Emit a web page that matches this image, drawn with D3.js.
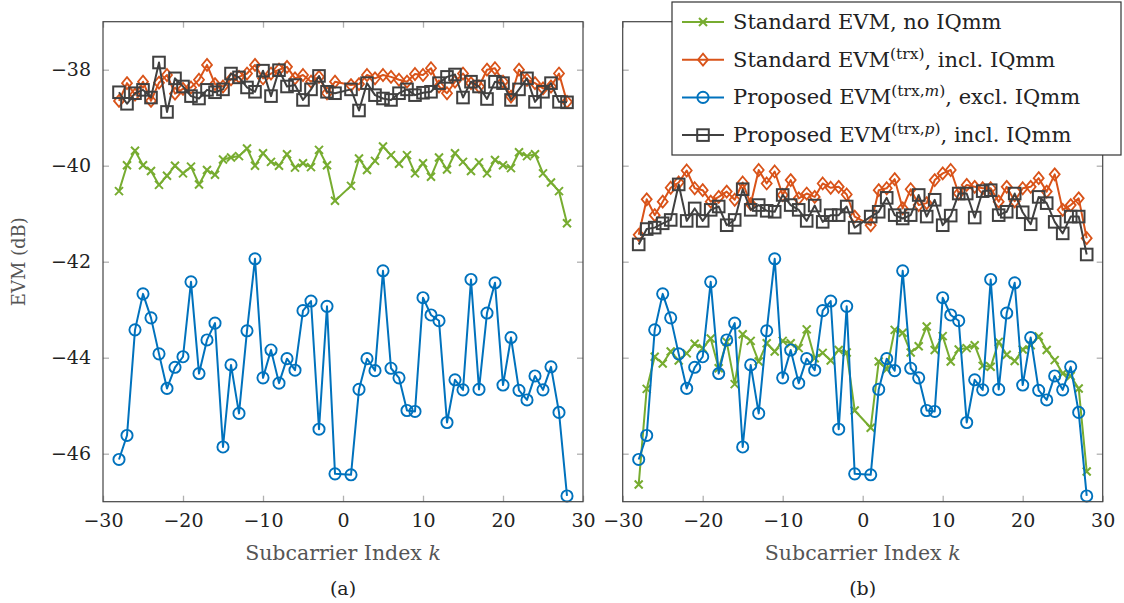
<!DOCTYPE html>
<html>
<head>
<meta charset="utf-8">
<script src="https://cdn.jsdelivr.net/npm/d3@7"></script>
<style>
  body { margin: 0; background: #fff; }
  svg { display: block; }
</style>
</head>
<body>
<svg id="chart" width="1124" height="603"></svg>
<script>
// Subcarrier indices (no DC carrier)
const subcarriers = d3.range(-28, 0).concat(d3.range(1, 29));

// Proposed EVM(trx,m), excl. IQmm - same in both panels
const proposedM = [
  -46.12, -45.62, -43.42, -42.67, -43.17, -43.92, -44.64, -44.20, -43.98, -42.42,
  -44.33, -43.63, -43.28, -45.86, -44.15, -45.16, -43.44, -41.94, -44.42, -43.84,
  -44.53, -44.02, -44.26, -43.02, -42.82, -45.49, -42.93, -46.42,
  -46.44, -44.66, -44.02, -44.27, -42.19, -44.22, -44.42, -45.10, -45.12, -42.75,
  -43.11, -43.23, -45.35, -44.46, -44.67, -42.37, -44.66, -43.07, -42.44, -44.57,
  -43.58, -44.68, -44.88, -44.38, -44.67, -44.19, -45.14, -46.88
];

// panel (a)
const stdNoIQ_a = [
  -40.53, -39.99, -39.69, -39.99, -40.11, -40.40, -40.21, -40.00, -40.16, -40.02,
  -40.39, -40.09, -40.19, -39.87, -39.83, -39.80, -39.64, -40.00, -39.74, -39.92,
  -40.00, -39.76, -40.04, -39.95, -40.03, -39.67, -39.99, -40.73,
  -40.42, -39.85, -40.09, -39.90, -39.60, -39.78, -39.96, -39.78, -40.16, -39.95,
  -40.23, -39.83, -40.08, -39.74, -39.92, -40.11, -39.93, -40.16, -39.88, -39.99,
  -40.05, -39.72, -39.80, -39.76, -40.16, -40.35, -40.53, -41.20
];
const stdIQ_a = [
  -38.65, -38.28, -38.52, -38.25, -38.65, -38.27, -38.11, -38.50, -38.40, -38.37,
  -38.21, -37.90, -38.30, -38.35, -38.20, -38.15, -38.08, -37.90, -38.18, -38.08,
  -38.00, -37.94, -38.18, -38.11, -38.25, -38.15, -38.49, -38.25,
  -38.32, -38.30, -38.11, -38.18, -38.11, -38.15, -38.21, -38.25, -38.09, -38.11,
  -37.97, -38.35, -38.49, -38.25, -38.08, -38.28, -38.35, -38.00, -37.97, -38.25,
  -38.56, -38.00, -38.21, -38.28, -38.39, -38.35, -38.08, -38.67
];
const proposedP_a = [
  -38.47, -38.71, -38.49, -38.42, -38.58, -37.85, -38.88, -38.18, -38.35, -38.55,
  -38.60, -38.42, -38.47, -38.41, -38.08, -38.16, -38.37, -38.46, -38.02, -38.55,
  -38.01, -38.35, -38.32, -38.63, -38.41, -38.13, -38.46, -38.49,
  -38.41, -38.85, -38.28, -38.53, -38.60, -38.63, -38.49, -38.41, -38.53, -38.48,
  -38.46, -38.28, -38.15, -38.10, -38.58, -38.25, -38.35, -38.61, -38.25, -38.28,
  -38.63, -38.41, -38.18, -38.67, -38.46, -38.28, -38.67, -38.68
];

// panel (b)
const stdNoIQ_b = [
  -46.64, -44.65, -43.98, -44.12, -43.87, -44.06, -43.91, -43.71, -43.80, -43.60,
  -44.22, -43.67, -44.55, -43.51, -43.65, -44.08, -43.70, -43.87, -43.65, -43.70,
  -43.80, -43.41, -44.01, -43.90, -44.06, -43.84, -43.89, -45.10,
  -45.46, -44.08, -44.24, -43.42, -43.48, -43.89, -43.76, -43.35, -43.84, -43.55,
  -44.08, -43.83, -43.80, -43.74, -44.17, -44.19, -43.67, -43.94, -44.07, -43.83,
  -43.74, -43.56, -43.84, -44.05, -44.33, -44.38, -44.64, -46.37
];
const stdIQ_b = [
  -41.44, -40.70, -41.03, -40.75, -40.46, -40.35, -40.10, -40.47, -40.51, -40.75,
  -40.65, -40.54, -40.71, -40.35, -40.80, -40.09, -40.37, -40.12, -40.61, -40.30,
  -40.68, -40.58, -40.65, -40.37, -40.46, -40.44, -40.60, -41.06,
  -41.24, -40.51, -40.47, -40.28, -40.89, -40.49, -40.82, -40.78, -40.30, -40.16,
  -40.09, -40.58, -40.40, -40.44, -40.47, -40.47, -40.75, -40.44, -40.74, -40.47,
  -40.44, -40.26, -40.54, -40.18, -40.92, -40.82, -40.68, -41.51
];
const proposedP_b = [
  -41.64, -41.32, -41.29, -41.20, -41.13, -40.39, -41.15, -40.89, -41.15, -40.92,
  -40.85, -41.24, -41.13, -40.49, -40.92, -40.82, -40.94, -40.96, -40.61, -40.82,
  -40.92, -41.15, -40.83, -41.17, -41.03, -41.03, -40.85, -41.29,
  -41.06, -40.96, -40.67, -41.03, -41.10, -41.03, -40.61, -41.06, -40.71, -41.24,
  -41.04, -40.58, -40.58, -41.08, -40.53, -40.51, -41.03, -40.96, -40.58, -40.97,
  -41.22, -40.65, -40.78, -41.17, -41.41, -41.06, -41.06, -41.85
];

const xTicks = [-30, -20, -10, 0, 10, 20, 30];
const yTicks = [-46, -44, -42, -40, -38];

const colors = {
  green: "#77ac30",
  orange: "#d95319",
  blue: "#0072bd",
  gray: "#404040"
};

const svg = d3.select("#chart");
const serif = "'DejaVu Serif', serif";
const pw = 480, ph = 480;
const plotTop = 21.7;

const x = d3.scaleLinear().domain([-30, 30]).range([0, pw]);
const y = d3.scaleLinear().domain([-47, -37]).range([ph, 0]);

const fmt = (v) => (v < 0 ? "\u2212" + Math.abs(v) : String(v));

// marker shapes
function drawMarker(g, shape, color) {
  if (shape === "cross") {
    g.append("path").attr("d", "M-4,-4L4,4M-4,4L4,-4")
      .attr("stroke", color).attr("stroke-width", 2).attr("fill", "none");
  } else if (shape === "diamond") {
    g.append("path").attr("d", "M0,-6L5,0L0,6L-5,0Z")
      .attr("stroke", color).attr("stroke-width", 1.8).attr("fill", "none");
  } else if (shape === "circle") {
    g.append("circle").attr("r", 5.6)
      .attr("stroke", color).attr("stroke-width", 1.9).attr("fill", "none");
  } else {
    g.append("rect").attr("x", -5.8).attr("y", -5.8).attr("width", 11.6).attr("height", 11.6)
      .attr("stroke", color).attr("stroke-width", 2).attr("fill", "none");
  }
}

function drawPanel(left, seriesList, label, showY) {
  const g = svg.append("g").attr("transform", `translate(${left},${plotTop})`);

  // ticks inside on all four sides
  const tickColor = "#b0b0b0";
  const axB = g.append("g").attr("transform", `translate(0,${ph})`)
    .call(d3.axisBottom(x).tickValues(xTicks).tickSize(-6).tickPadding(12).tickFormat(fmt));
  const axT = g.append("g")
    .call(d3.axisTop(x).tickValues(xTicks).tickSize(-6).tickFormat(""));
  const axL = g.append("g")
    .call(d3.axisLeft(y).tickValues(yTicks).tickSize(-6).tickPadding(12)
      .tickFormat(showY ? fmt : ""));
  const axR = g.append("g").attr("transform", `translate(${pw},0)`)
    .call(d3.axisRight(y).tickValues(yTicks).tickSize(-6).tickFormat(""));
  [axB, axT, axL, axR].forEach((a) => {
    a.select(".domain").remove();
    a.selectAll(".tick line").attr("stroke", tickColor).attr("stroke-width", 1.3);
    a.selectAll(".tick text").attr("font-family", serif).attr("font-size", 19).attr("fill", "#222");
  });

  const clipId = "clip" + label;
  svg.append("clipPath").attr("id", clipId)
    .append("rect").attr("x", -10).attr("y", -10).attr("width", pw + 20).attr("height", ph + 20);

  const line = d3.line().x((d) => x(d[0])).y((d) => y(d[1]));
  const plot = g.append("g").attr("clip-path", `url(#${clipId})`);
  seriesList.forEach((s) => {
    const pts = subcarriers.map((k, i) => [k, s.values[i]]);
    plot.append("path").datum(pts).attr("d", line)
      .attr("fill", "none").attr("stroke", s.color).attr("stroke-width", 2)
      .attr("stroke-linejoin", "round");
    plot.selectAll(null).data(pts).join("g")
      .attr("transform", (d) => `translate(${x(d[0])},${y(d[1])})`)
      .each(function () { drawMarker(d3.select(this), s.shape, s.color); });
  });

  // frame
  g.append("rect").attr("width", pw).attr("height", ph)
    .attr("fill", "none").attr("stroke", "#444").attr("stroke-width", 1.2);

  // x label
  const xl = g.append("text").attr("x", pw / 2).attr("y", ph + 58)
    .attr("text-anchor", "middle").attr("font-family", serif).attr("font-size", 20.5).attr("fill", "#555");
  xl.append("tspan").text("Subcarrier Index ");
  xl.append("tspan").attr("font-style", "italic").text("k");

  svg.append("text").attr("x", left + pw / 2).attr("y", 595)
    .attr("text-anchor", "middle").attr("font-family", serif).attr("font-size", 19).attr("fill", "#222")
    .text(`(${label})`);
  return g;
}

drawPanel(103, [
  { values: stdNoIQ_a, color: colors.green, shape: "cross" },
  { values: stdIQ_a, color: colors.orange, shape: "diamond" },
  { values: proposedM, color: colors.blue, shape: "circle" },
  { values: proposedP_a, color: colors.gray, shape: "square" }
], "a", true);

drawPanel(622.7, [
  { values: stdNoIQ_b, color: colors.green, shape: "cross" },
  { values: stdIQ_b, color: colors.orange, shape: "diamond" },
  { values: proposedM, color: colors.blue, shape: "circle" },
  { values: proposedP_b, color: colors.gray, shape: "square" }
], "b", false);

// y label
svg.append("text")
  .attr("transform", `translate(25,${plotTop + ph / 2}) rotate(-90)`)
  .attr("text-anchor", "middle").attr("font-family", serif).attr("font-size", 18).attr("fill", "#555")
  .text("EVM (dB)");

// legend
const legendItems = [
  { color: colors.green, shape: "cross", parts: [["Standard EVM, no IQmm"]] },
  { color: colors.orange, shape: "diamond", parts: [["Standard EVM"], ["(trx)", "sup"], [", incl. IQmm"]] },
  { color: colors.blue, shape: "circle", parts: [["Proposed EVM"], ["(trx,", "sup"], ["m", "supi"], [")", "sup"], [", excl. IQmm"]] },
  { color: colors.gray, shape: "square", parts: [["Proposed EVM"], ["(trx,", "sup"], ["p", "supi"], [")", "sup"], [", incl. IQmm"]] }
];

const lg = svg.append("g").attr("transform", "translate(672,2)");
lg.append("rect").attr("width", 449).attr("height", 153)
  .attr("fill", "#fff").attr("stroke", "#333").attr("stroke-width", 1.2);
legendItems.forEach((it, i) => {
  const row = lg.append("g").attr("transform", `translate(0,${20 + i * 37.7})`);
  row.append("line").attr("x1", 10).attr("x2", 52).attr("stroke", it.color).attr("stroke-width", 2);
  drawMarker(row.append("g").attr("transform", "translate(31,0)"), it.shape, it.color);
  const t = row.append("text").attr("x", 61).attr("y", 7)
    .attr("font-family", serif).attr("font-size", 21).attr("fill", "#222");
  it.parts.forEach((p) => {
    const ts = t.append("tspan").text(p[0]);
    if (p[1]) {
      ts.attr("font-size", 15.5).attr("baseline-shift", "8");
      if (p[1] === "supi") ts.attr("font-style", "italic");
    }
  });
});
</script>
</body>
</html>
